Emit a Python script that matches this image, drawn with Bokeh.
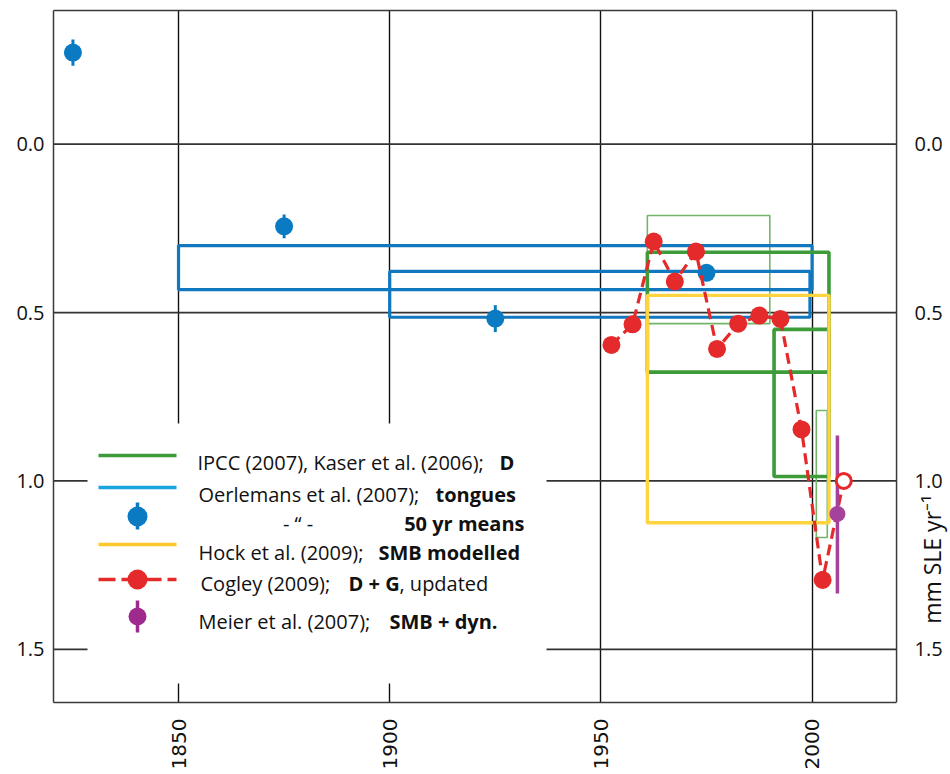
import math
from bokeh.plotting import figure
from bokeh.models import (Range1d, LinearAxis, FixedTicker, BoxAnnotation, Label, Arrow,
                          PrintfTickFormatter, Span)
from bokeh.embed import file_html
from bokeh.resources import INLINE

# ---------------- data ----------------
# Oerlemans et al. (2007) 50-yr means
oer_years = [1825, 1875, 1925, 1975]
oer_vals = [-0.272, 0.244, 0.518, 0.382]
oer_err = [0.039, 0.035, 0.04, 0.02]

# Oerlemans tongues (periods as boxes)
tong_start = [1850, 1900]
tong_end = [2000, 1999.5]
tong_low = [0.301, 0.378]
tong_high = [0.432, 0.514]

# IPCC / Kaser (D), thick boxes
ipcc_start = [1961, 1991]
ipcc_end = [2004, 2004]
ipcc_low = [0.321, 0.550]
ipcc_high = [0.677, 0.987]

# thin green boxes
kthin_start = [1961, 2001]
kthin_end = [1990, 2003.6]
kthin_low = [0.212, 0.791]
kthin_high = [0.533, 1.168]

# Hock et al. (2009) SMB modelled
hock_start = [1961]
hock_end = [2004]
hock_low = [0.449]
hock_high = [1.124]

# Cogley (2009) D + G, updated (pentads)
cog_years = [1952.5, 1957.5, 1962.5, 1967.5, 1972.5, 1977.5, 1982.5, 1987.5, 1992.5, 1997.5, 2002.5]
cog_vals = [0.596, 0.535, 0.289, 0.408, 0.319, 0.608, 0.533, 0.509, 0.519, 0.847, 1.294]
cog_upd_year = [2007.5]
cog_upd_val = [1.0]

# Meier et al. (2007) SMB + dyn.
meier_year = [2006]
meier_val = [1.098]
meier_low = [0.865]
meier_high = [1.334]

x_ticks = [1850, 1900, 1950, 2000]
y_ticks = [0.0, 0.5, 1.0, 1.5]

# axis extents (data box 1820.4-2020; the frame continues right to hold the right-hand labels)
X_START, X_BOX_END, X_FRAME_END = 1820.4, 2020.0, 2032.3
Y_TOP, Y_BOTTOM = -0.397, 1.658

# ---------------- colours ----------------
BLUE_PT = "#0A7BC2"
BLUE_BOX = "#1177BF"
CYAN = "#1AA4E0"
GREEN = "#3D9B3A"
GREEN_THIN = "#72B66A"
YELLOW = "#FFD43E"
RED = "#E42A2A"
MAGENTA = "#A5429C"
FRAME = "#3a3a3a"
FONT = "Open Sans"

p = figure(frame_width=895, frame_height=692, output_backend="svg", toolbar_location=None,
           x_range=Range1d(X_START, X_FRAME_END), y_range=Range1d(Y_BOTTOM, Y_TOP),
           min_border_left=53, min_border_right=0, min_border_top=10, min_border_bottom=64)
p.background_fill_color = "white"
p.border_fill_color = "white"
p.outline_line_color = None

# grid: vertical from the grid, horizontal as rules stopping at the box edge
p.xgrid.ticker = FixedTicker(ticks=x_ticks)
p.xgrid.grid_line_color = "#111111"
p.xgrid.grid_line_width = 1.4
p.ygrid.grid_line_color = None
p.segment(x0=[X_START] * len(y_ticks), y0=y_ticks, x1=[X_BOX_END] * len(y_ticks), y1=y_ticks,
          line_color="#333333", line_width=1.8)

# axes
def style_axis(ax, ticks, size, standoff, font):
    ax.ticker = FixedTicker(ticks=ticks)
    ax.axis_line_color = FRAME
    ax.axis_line_width = 1.5
    ax.major_tick_line_color = None
    ax.minor_tick_line_color = None
    ax.major_tick_in = 0
    ax.major_tick_out = 0
    ax.major_label_text_font = font
    ax.major_label_text_font_size = size
    ax.major_label_text_color = "#111111"
    ax.major_label_standoff = standoff

style_axis(p.xaxis[0], x_ticks, "20px", 16, "DejaVu Sans")
p.xaxis[0].major_label_orientation = math.pi / 2
p.xaxis[0].bounds = (X_START, X_BOX_END)
style_axis(p.yaxis[0], y_ticks, "20px", 9, FONT)
p.yaxis[0].formatter = PrintfTickFormatter(format="%.1f")

top_ax = LinearAxis(bounds=(X_START, X_BOX_END))
style_axis(top_ax, [], "0px", 0, FONT)
top_ax.major_label_text_font_size = "0px"
p.add_layout(top_ax, "above")

p.add_layout(Span(location=X_BOX_END, dimension="height", line_color=FRAME, line_width=1.5))

# right-hand tick labels and title
for v in y_ticks:
    p.add_layout(Label(x=X_BOX_END, y=v, x_offset=18, text=f"{v:.1f}", text_font=FONT,
                       text_font_size="20px", text_color="#111111", text_align="left",
                       text_baseline="middle"))
p.add_layout(Label(x=X_BOX_END, y=1.233, x_offset=35, text="mm SLE yr\u207b\u00b9",
                   angle=math.pi / 2, text_font=FONT, text_font_size="23px",
                   text_color="#111111", text_align="center", text_baseline="middle"))

# ---------------- data glyphs ----------------
p.quad(left=kthin_start, right=kthin_end, top=kthin_low, bottom=kthin_high,
       fill_color=None, line_color=GREEN_THIN, line_width=1.6)
p.quad(left=tong_start, right=tong_end, top=tong_low, bottom=tong_high,
       fill_color=None, line_color=BLUE_BOX, line_width=3.2)
p.quad(left=ipcc_start, right=ipcc_end, top=ipcc_low, bottom=ipcc_high,
       fill_color=None, line_color=GREEN, line_width=3.6)
p.quad(left=hock_start, right=hock_end, top=hock_low, bottom=hock_high,
       fill_color=None, line_color=YELLOW, line_width=3.4)

oer_lo = [v - e for v, e in zip(oer_vals, oer_err)]
oer_hi = [v + e for v, e in zip(oer_vals, oer_err)]
p.segment(x0=oer_years, y0=oer_lo, x1=oer_years, y1=oer_hi, line_color=BLUE_PT, line_width=3)
p.scatter(oer_years, oer_vals, size=18, marker="circle", fill_color=BLUE_PT, line_color=None)

p.line(cog_years + cog_upd_year, cog_vals + cog_upd_val, line_color=RED, line_width=3.2,
       line_dash="11 6")
p.scatter(cog_years, cog_vals, size=18, marker="circle", fill_color=RED, line_color=None)

p.segment(x0=meier_year, y0=meier_low, x1=meier_year, y1=meier_high, line_color=MAGENTA, line_width=3.5)
p.scatter(meier_year, meier_val, size=16, marker="circle", fill_color=MAGENTA, line_color=None)
p.scatter(cog_upd_year, cog_upd_val, size=15, marker="circle", fill_color="white",
          line_color=RED, line_width=3)

# ---------------- legend (screen layout relative to frame) ----------------
FL, FB = 53.0, 702.0   # frame left / bottom on the page
def sx(px):
    return px - FL
def sy(py):
    return FB - py

p.add_layout(BoxAnnotation(left=sx(87), right=sx(546), top=sy(423), bottom=sy(683),
                           left_units="screen", right_units="screen", top_units="screen",
                           bottom_units="screen", fill_color="white", fill_alpha=1.0,
                           line_color=None, level="annotation"))

def seg(x0, y0, x1, y1, color, width, dash="solid"):
    p.add_layout(Arrow(start=None, end=None, x_start=sx(x0), y_start=sy(y0), x_end=sx(x1), y_end=sy(y1),
                       start_units="screen", end_units="screen", line_color=color,
                       line_width=width, line_dash=dash))

def dot(cx, cy, r, color):
    p.add_layout(BoxAnnotation(left=sx(cx - r), right=sx(cx + r), top=sy(cy - r), bottom=sy(cy + r),
                               left_units="screen", right_units="screen", top_units="screen",
                               bottom_units="screen", fill_color=color, fill_alpha=1.0,
                               line_color=None, border_radius=int(r)))

def txt(px, py, s, bold=False, align="left"):
    p.add_layout(Label(x=sx(px), y=sy(py), x_units="screen", y_units="screen", text=s,
                       text_font=FONT, text_font_size="20px",
                       text_font_style="bold" if bold else "normal",
                       text_color="#111111", text_align=align, text_baseline="alphabetic"))

LX0, LX1, LXC = 98, 176, 137
seg(LX0, 455, LX1, 455, GREEN, 3.4)
seg(LX0, 487, LX1, 487, CYAN, 3.4)
seg(LXC, 502, LXC, 529, BLUE_PT, 3.5)
dot(LXC, 516, 10, BLUE_PT)
seg(LX0, 544, LX1, 544, "#FFC82C", 3.4)
seg(LX0, 579, LX1, 579, RED, 3.4, "17 6")
dot(LXC, 579, 10, RED)
seg(LXC, 600, LXC, 632, "#9E2A8E", 3.5)
dot(LXC, 616, 9, "#9E2A8E")

txt(197, 462, "IPCC (2007), Kaser et al. (2006);")
txt(499, 462, "D", bold=True)
txt(198, 494, "Oerlemans et al. (2007);")
txt(435, 494, "tongues", bold=True)
txt(308, 523, "-   \u201c   -", align="center")
txt(524, 523, "50 yr means", bold=True, align="right")
txt(198, 552, "Hock et al. (2009);")
txt(378, 552, "SMB modelled", bold=True)
txt(200, 583, "Cogley (2009);")
txt(348, 583, "D + G", bold=True)
txt(399, 583, ", updated")
txt(198, 621, "Meier et al.  (2007);")
txt(389, 621, "SMB + dyn.", bold=True)

open("out.html", "w").write(file_html(p, INLINE))
